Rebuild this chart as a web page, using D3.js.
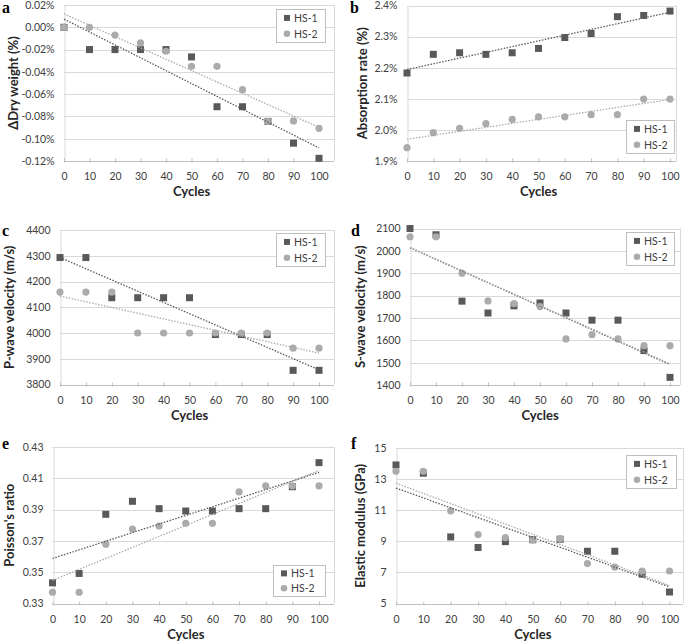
<!DOCTYPE html>
<html>
<head>
<meta charset="utf-8">
<script src="https://cdn.jsdelivr.net/npm/d3@7"></script>
<style>
  html, body { margin: 0; padding: 0; background: #fff; }
  svg { display: block; }
  text { font-family: Lato, "Open Sans", sans-serif; }
</style>
</head>
<body>
<svg id="chart" width="685" height="642"></svg>
<script>
// ---------------- DATA ----------------
const cycles = [0, 10, 20, 30, 40, 50, 60, 70, 80, 90, 100];
const seriesNames = ["HS-1", "HS-2"];

// a: change of dry weight (%)
const dryHS1 = [0.000, -0.020, -0.020, -0.020, -0.020, -0.0266, -0.0713, -0.0713, -0.0845, -0.104, -0.1176];
const dryHS2 = [0.000, 0.000, -0.007, -0.014, -0.0215, -0.035, -0.035, -0.056, -0.0845, -0.084, -0.0907];
const dryTicks = [0.02, 0.00, -0.02, -0.04, -0.06, -0.08, -0.10, -0.12];

// b: absorption rate (%)
const absHS1 = [2.183, 2.243, 2.248, 2.243, 2.248, 2.262, 2.297, 2.310, 2.364, 2.368, 2.382];
const absHS2 = [1.943, 1.991, 2.005, 2.020, 2.034, 2.042, 2.042, 2.049, 2.049, 2.099, 2.099];
const absTicks = [1.9, 2.0, 2.1, 2.2, 2.3, 2.4];

// c: P-wave velocity (m/s)
const pHS1 = [4293, 4293, 4137, 4137, 4137, 4137, 3994, 3994, 3994, 3855, 3855];
const pHS2 = [4159, 4159, 4159, 4000, 4000, 4000, 4000, 4000, 4000, 3941, 3941];
const pTicks = [3800, 3900, 4000, 4100, 4200, 4300, 4400];

// d: S-wave velocity (m/s)
const sHS1 = [2100, 2072, 1775, 1722, 1754, 1767, 1722, 1690, 1690, 1554, 1434];
const sHS2 = [2063, 2063, 1900, 1776, 1764, 1751, 1606, 1625, 1606, 1576, 1576];
const sTicks = [1400, 1500, 1600, 1700, 1800, 1900, 2000, 2100];

// e: Poisson's ratio
const nuHS1 = [0.3432, 0.3492, 0.3870, 0.3953, 0.3906, 0.3891, 0.3891, 0.3906, 0.3906, 0.4046, 0.4200];
const nuHS2 = [0.3372, 0.3372, 0.3679, 0.3776, 0.3795, 0.3812, 0.3812, 0.4013, 0.4052, 0.4052, 0.4052];
const nuTicks = [0.33, 0.35, 0.37, 0.39, 0.41, 0.43];

// f: elastic modulus (GPa)
const eHS1 = [13.91, 13.38, 9.28, 8.60, 8.98, 9.10, 9.13, 8.36, 8.36, 6.89, 5.74];
const eHS2 = [13.50, 13.50, 10.96, 9.43, 9.23, 9.08, 9.17, 7.57, 7.34, 7.09, 7.09];
const eTicks = [5, 7, 9, 11, 13, 15];

const xTicks = cycles;

// ---------------- LAYOUT ----------------
const panels = [
  { letter: "a", s1: dryHS1, s2: dryHS2, ticks: dryTicks, fmt: d => d.toFixed(2) + "%",
    title: "ΔDry weight (%)", x0: 64, x100: 319, right: 334, top: 5, bottom: 161,
    titleX: 13, letterPos: [2, 13], legend: { x: 276, y: 9, w: 49, h: 33 } },
  { letter: "b", s1: absHS1, s2: absHS2, ticks: absTicks, fmt: d => d.toFixed(1) + "%",
    title: "Absorption rate (%)", x0: 407, x100: 670, right: 676, top: 5.5, bottom: 161,
    titleX: 362, letterPos: [350, 13], legend: { x: 626, y: 120, w: 48, h: 33 } },
  { letter: "c", s1: pHS1, s2: pHS2, ticks: pTicks, fmt: d => d3.format("d")(d),
    title: "P-wave velocity (m/s)", x0: 60, x100: 319, right: 334, top: 230, bottom: 384.5,
    titleX: 9, letterPos: [2, 236], legend: { x: 276, y: 233, w: 49, h: 33 } },
  { letter: "d", s1: sHS1, s2: sHS2, ticks: sTicks, fmt: d => d3.format("d")(d),
    title: "S-wave velocity (m/s)", x0: 410, x100: 670, right: 680, top: 228.5, bottom: 385,
    titleX: 360, letterPos: [351, 236], legend: { x: 626, y: 232, w: 48, h: 33 } },
  { letter: "e", s1: nuHS1, s2: nuHS2, ticks: nuTicks, fmt: d => d.toFixed(2),
    title: "Poisson's ratio", x0: 52.5, x100: 319, right: 334, top: 447, bottom: 603.5,
    titleX: 9, letterPos: [2, 449], legend: { x: 273, y: 565, w: 52, h: 31 } },
  { letter: "f", s1: eHS1, s2: eHS2, ticks: eTicks, fmt: d => d3.format("d")(d),
    title: "Elastic modulus (GPa)", x0: 396, x100: 669.5, right: 683, top: 448, bottom: 603.5,
    titleX: 360, letterPos: [351, 449], legend: { x: 626, y: 455, w: 50, h: 33 } }
];

const colors = ["#595959", "#ababab"];
const gridColor = "#d9d9d9";
const tickColor = "#404040";
const titleColor = "#262626";

const svg = d3.select("#chart");

function linfit(xs, ys) {
  const n = xs.length;
  const mx = d3.mean(xs), my = d3.mean(ys);
  let sxy = 0, sxx = 0;
  for (let i = 0; i < n; i++) { sxy += (xs[i] - mx) * (ys[i] - my); sxx += (xs[i] - mx) ** 2; }
  const b = sxy / sxx;
  return x => my + b * (x - mx);
}

panels.forEach(p => {
  const g = svg.append("g");
  const x = d3.scaleLinear().domain([0, 100]).range([p.x0, p.x100]);
  const yExt = d3.extent(p.ticks);
  const y = d3.scaleLinear().domain(yExt).range([p.bottom, p.top]);

  // gridlines
  g.append("g").selectAll("line").data(p.ticks.filter(t => t !== yExt[0])).join("line")
    .attr("x1", p.x0).attr("x2", p.right)
    .attr("y1", d => Math.round(y(d)) + 0.5).attr("y2", d => Math.round(y(d)) + 0.5)
    .attr("stroke", gridColor).attr("stroke-width", 1);
  // right border
  g.append("line").attr("x1", Math.round(p.right) + 0.5).attr("x2", Math.round(p.right) + 0.5)
    .attr("y1", p.top).attr("y2", p.bottom).attr("stroke", gridColor);

  // y axis
  const yAxis = d3.axisLeft(y).tickValues(p.ticks).tickFormat(p.fmt).tickSize(0).tickPadding(10);
  const ya = g.append("g").attr("transform", `translate(${Math.round(p.x0) + 0.5},0)`).call(yAxis);
  ya.select(".domain").attr("stroke", gridColor);
  ya.selectAll("text").attr("fill", tickColor).style("font-size", "10.5px").style("font-family", "Lato");

  // x axis
  const xAxis = d3.axisBottom(x).tickValues(xTicks).tickFormat(d3.format("d")).tickSize(0).tickPadding(11);
  const xa = g.append("g").attr("transform", `translate(0,${Math.round(p.bottom) + 0.5})`).call(xAxis);
  xa.select(".domain").attr("stroke", "#bfbfbf").attr("d", `M${p.x0},0H${p.right}`);
  xa.selectAll("text").attr("fill", tickColor).style("font-size", "10.5px").style("font-family", "Lato");
  xa.selectAll(".tick").append("line").attr("y1", -3).attr("y2", 1).attr("stroke", "#bfbfbf");

  // axis titles
  g.append("text").text("Cycles")
    .attr("x", (p.x0 + p.x100) / 2).attr("y", p.bottom + 35)
    .attr("text-anchor", "middle").attr("fill", titleColor)
    .style("font-size", "13px").style("font-weight", "bold");
  g.append("text").text(p.title)
    .attr("transform", `translate(${p.titleX},${(p.top + p.bottom) / 2}) rotate(-90)`)
    .attr("text-anchor", "middle").attr("dominant-baseline", "central").attr("fill", titleColor)
    .style("font-size", "13px").style("font-weight", "bold");

  // panel letter
  g.append("text").text(p.letter)
    .attr("x", p.letterPos[0]).attr("y", p.letterPos[1])
    .attr("fill", "#000")
    .style("font-family", "'Liberation Serif', 'DejaVu Serif', serif")
    .style("font-size", "16px").style("font-weight", "bold");

  // markers
  const pts1 = cycles.map((c, i) => [c, p.s1[i]]);
  const pts2 = cycles.map((c, i) => [c, p.s2[i]]);
  g.append("g").selectAll("rect").data(pts1).join("rect")
    .attr("x", d => x(d[0]) - 3.5).attr("y", d => y(d[1]) - 3.5)
    .attr("width", 7).attr("height", 7).attr("fill", colors[0]);
  g.append("g").selectAll("circle").data(pts2).join("circle")
    .attr("cx", d => x(d[0])).attr("cy", d => y(d[1])).attr("r", 3.6)
    .attr("fill", colors[1]);

  // trendlines (linear least squares)
  [p.s1, p.s2].forEach((s, k) => {
    const f = linfit(cycles, s);
    g.append("line")
      .attr("x1", x(0)).attr("y1", y(f(0)))
      .attr("x2", x(100)).attr("y2", y(f(100)))
      .attr("stroke", colors[k]).attr("stroke-width", 1.3)
      .attr("stroke-dasharray", "1.5,1.5");
  });

  // legend
  const L = p.legend;
  const lg = g.append("g").attr("transform", `translate(${L.x},${L.y})`);
  lg.append("rect").attr("x", 0.5).attr("y", 0.5).attr("width", L.w).attr("height", L.h)
    .attr("fill", "#fff").attr("stroke", "#bfbfbf");
  seriesNames.forEach((name, k) => {
    const cy = L.h * (k === 0 ? 0.27 : 0.75);
    if (k === 0) {
      lg.append("rect").attr("x", 8).attr("y", cy - 3).attr("width", 6).attr("height", 6).attr("fill", colors[0]);
    } else {
      lg.append("circle").attr("cx", 11).attr("cy", cy).attr("r", 3.3).attr("fill", colors[1]);
    }
    lg.append("text").text(name).attr("x", 18).attr("y", cy)
      .attr("dominant-baseline", "central").attr("fill", tickColor)
      .style("font-size", "10.5px");
  });
});
</script>
</body>
</html>
